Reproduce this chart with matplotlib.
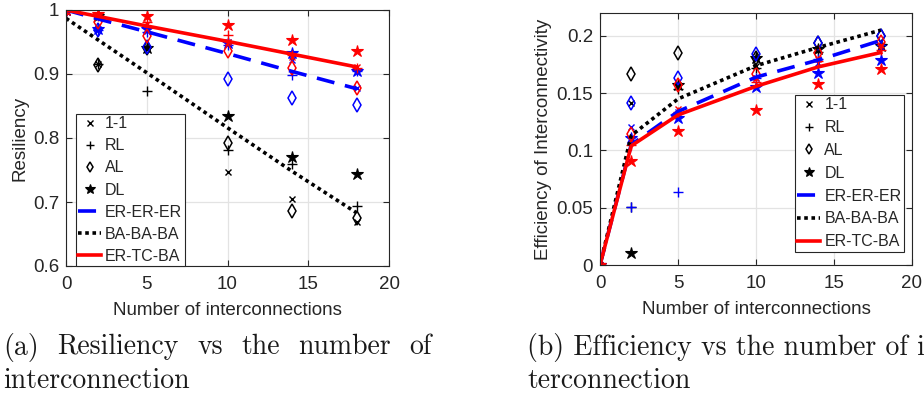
import matplotlib
matplotlib.use("Agg")
import matplotlib.pyplot as plt
from matplotlib.lines import Line2D

plt.rcParams['font.family'] = ['Liberation Sans', 'DejaVu Sans']

x = [0, 2, 5, 10, 14, 18]

# ---------- (a) Resiliency ----------
res_er_11 = [1.0, 0.970, 0.967, 0.950, 0.922, 0.878]
res_er_rl = [1.0, 0.968, 0.965, 0.945, 0.898, 0.905]
res_er_al = [1.0, 0.968, 0.942, 0.892, 0.863, 0.851]
res_er_dl = [1.0, 0.970, 0.970, 0.948, 0.933, 0.904]

res_ba_11 = [1.0, 0.915, 0.940, 0.747, 0.704, 0.669]
res_ba_rl = [1.0, 0.915, 0.873, 0.782, 0.759, 0.693]
res_ba_al = [1.0, 0.914, 0.940, 0.792, 0.686, 0.675]
res_ba_dl = [1.0, 0.990, 0.941, 0.834, 0.771, 0.744]

res_tc_11 = [1.0, 0.990, 0.978, 0.950, 0.927, 0.911]
res_tc_rl = [1.0, 0.990, 0.982, 0.961, 0.930, 0.910]
res_tc_al = [1.0, 0.982, 0.960, 0.936, 0.910, 0.878]
res_tc_dl = [1.0, 0.993, 0.990, 0.977, 0.953, 0.936]

res_line_er = [1.0, 0.986, 0.966, 0.932, 0.904, 0.877]
res_line_ba = [0.987, 0.953, 0.902, 0.816, 0.748, 0.683]
res_line_tc = [1.0, 0.990, 0.975, 0.951, 0.931, 0.911]

# ---------- (b) Efficiency ----------
eff_er_11 = [0.0, 0.1206, 0.134, 0.163, 0.176, 0.190]
eff_er_rl = [0.0, 0.0503, 0.064, 0.163, 0.180, 0.192]
eff_er_al = [0.0, 0.141, 0.163, 0.1846, 0.194, 0.200]
eff_er_dl = [0.0, 0.111, 0.128, 0.155, 0.168, 0.179]

eff_ba_11 = [0.0, 0.141, 0.157, 0.174, 0.189, 0.191]
eff_ba_rl = [0.0, 0.0503, 0.154, 0.172, 0.186, 0.193]
eff_ba_al = [0.0, 0.167, 0.1855, 0.181, 0.194, 0.200]
eff_ba_dl = [0.0, 0.0102, 0.157, 0.181, 0.189, 0.191]

eff_tc_11 = [0.0, 0.109, 0.136, 0.163, 0.180, 0.192]
eff_tc_rl = [0.0, 0.105, 0.134, 0.160, 0.178, 0.188]
eff_tc_al = [0.0, 0.114, 0.157, 0.1666, 0.185, 0.195]
eff_tc_dl = [0.0, 0.0907, 0.117, 0.135, 0.158, 0.1707]

eff_line_er = [0.0, 0.105, 0.134, 0.164, 0.179, 0.196]
eff_line_ba = [0.0, 0.113, 0.145, 0.174, 0.190, 0.205]
eff_line_tc = [0.0, 0.104, 0.131, 0.156, 0.173, 0.1855]

marker_labels = ['1-1', 'RL', 'AL', 'DL']
line_labels = ['ER-ER-ER', 'BA-BA-BA', 'ER-TC-BA']

caption_a_line1 = ['(a)', 'Resiliency', 'vs', 'the', 'number', 'of']
caption_a_line2 = 'interconnection'
caption_b_line1 = '(b) Efficiency vs the number of in-'
caption_b_line2 = 'terconnection'

markers = {'1-1': dict(marker='x', ms=5, mew=1.0),
           'RL': dict(marker='+', ms=7, mew=1.0),
           'AL': dict(marker='d', ms=7, mew=1.1, mfc='none'),
           'DL': dict(marker='*', ms=9, mew=0.8)}

line_styles = {'ER-ER-ER': dict(color='#0000ff', ls=(0, (5, 3)), lw=2.6),
               'BA-BA-BA': dict(color='black', ls=(0, (1, 1)), lw=2.6),
               'ER-TC-BA': dict(color='#ff0000', ls='-', lw=2.6)}

colors = {'ER-ER-ER': '#0000ff', 'BA-BA-BA': 'black', 'ER-TC-BA': '#ff0000'}

fig = plt.figure(figsize=(9.24, 3.99), dpi=100)
W, H = 924, 399

def axes_px(l, t, r, b):
    return fig.add_axes([l / W, 1 - b / H, (r - l) / W, (b - t) / H])

ax1 = axes_px(66, 10, 389, 266)
ax2 = axes_px(600, 13, 912, 265)

grey = '#262626'

def draw(ax, groups, lines):
    for name in ['BA-BA-BA', 'ER-ER-ER', 'ER-TC-BA']:
        for lab, ys in zip(marker_labels, groups[name]):
            st = dict(markers[lab])
            c = colors[name]
            if lab != 'AL':
                st['mfc'] = c
            ax.plot(x, ys, ls='none', color=c, mec=c, **st)
    for name, ys in zip(line_labels, lines):
        ax.plot(x, ys, **line_styles[name])
    ax.set_xlim(0, 20)
    ax.set_xticks([0, 5, 10, 15, 20])
    ax.grid(True, color='#e3e3e3', lw=0.9)
    ax.set_axisbelow(True)
    ax.tick_params(direction='in', length=4, width=0.8, colors=grey,
                   labelsize=13.5, top=True, right=True, pad=5)
    ax.tick_params(axis='x', pad=7)
    for s in ax.spines.values():
        s.set_color(grey)
        s.set_linewidth(0.8)
    ax.set_xlabel('Number of interconnections', fontsize=13.5, color=grey, labelpad=7)

draw(ax1,
     {'ER-ER-ER': [res_er_11, res_er_rl, res_er_al, res_er_dl],
      'BA-BA-BA': [res_ba_11, res_ba_rl, res_ba_al, res_ba_dl],
      'ER-TC-BA': [res_tc_11, res_tc_rl, res_tc_al, res_tc_dl]},
     [res_line_er, res_line_ba, res_line_tc])
ax1.set_ylim(0.6, 1.0)
ax1.set_yticks([0.6, 0.7, 0.8, 0.9, 1.0])
ax1.set_yticklabels(['0.6', '0.7', '0.8', '0.9', '1'])
ax1.set_ylabel('Resiliency', fontsize=13.5, color=grey, labelpad=3)

draw(ax2,
     {'ER-ER-ER': [eff_er_11, eff_er_rl, eff_er_al, eff_er_dl],
      'BA-BA-BA': [eff_ba_11, eff_ba_rl, eff_ba_al, eff_ba_dl],
      'ER-TC-BA': [eff_tc_11, eff_tc_rl, eff_tc_al, eff_tc_dl]},
     [eff_line_er, eff_line_ba, eff_line_tc])
ax2.set_ylim(0, 0.22)
ax2.set_yticks([0, 0.05, 0.1, 0.15, 0.2])
ax2.set_yticklabels(['0', '0.05', '0.1', '0.15', '0.2'])
ax2.set_ylabel('Efficiency of Interconnectivity', fontsize=13.5, color=grey, labelpad=3)

def legend_handles():
    hs = []
    for lab in marker_labels:
        st = dict(markers[lab])
        st['ms'] = st['ms'] * 0.8
        if lab != 'AL':
            st['mfc'] = 'black'
        hs.append(Line2D([], [], ls='none', color='black', mec='black', **st))
    for name in line_labels:
        hs.append(Line2D([], [], **line_styles[name]))
    return hs, marker_labels + line_labels

for ax, loc, anchor, sp in [(ax1, 'lower left', (0.030, 0.0), 0.44),
                            (ax2, 'upper right', (0.974, 0.675), 0.49)]:
    hs, ls = legend_handles()
    leg = ax.legend(hs, ls, loc=loc, bbox_to_anchor=anchor, fontsize=11.5,
                    frameon=True, fancybox=False, framealpha=1, edgecolor=grey,
                    borderaxespad=0, borderpad=0.15, handlelength=1.45,
                    handletextpad=0.25, labelspacing=sp)
    leg.get_frame().set_linewidth(0.8)
    for t in leg.get_texts():
        t.set_color(grey)

cap = dict(fontsize=20, family='cmr10', color='#1a1a1a', va='center', ha='left')

# justified first caption line between x=3 px and x=432 px
renderer = fig.canvas.get_renderer()
texts = [fig.text(0, 1 - 347 / H, w, **cap) for w in caption_a_line1]
widths = [t.get_window_extent(renderer).width for t in texts]
left_px, right_px = 3, 432
gap = (right_px - left_px - sum(widths)) / (len(texts) - 1)
pos = left_px
for t, w in zip(texts, widths):
    t.set_x(pos / W)
    pos += w + gap

fig.text(3 / W, 1 - 381 / H, caption_a_line2, **cap)
fig.text(527 / W, 1 - 347 / H, caption_b_line1, **cap)
fig.text(527 / W, 1 - 381 / H, caption_b_line2, **cap)

fig.savefig('out.png', dpi=100)
